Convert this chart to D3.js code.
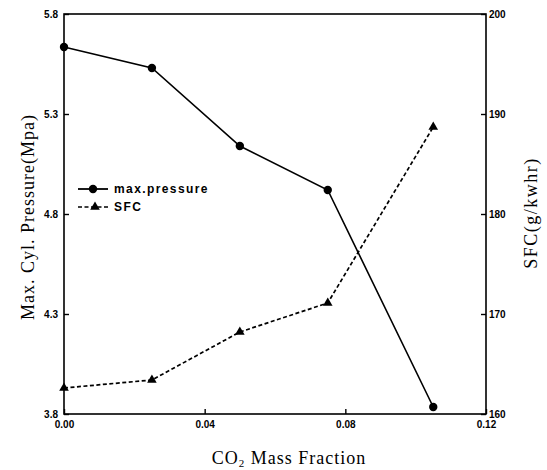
<!DOCTYPE html>
<html>
<head>
<meta charset="utf-8">
<script src="https://cdn.jsdelivr.net/npm/d3@7"></script>
<style>
  html, body { margin: 0; padding: 0; background: #fff; }
  svg { display: block; }
</style>
</head>
<body>
<svg id="chart" width="547" height="470"></svg>
<script>
// CO2 mass fraction (x) and the two measured series
const co2Fraction = [0.0, 0.025, 0.05, 0.075, 0.105];
const maxPressure = [5.635, 5.53, 5.14, 4.92, 3.835];
const sfc = [162.6, 163.4, 168.2, 171.1, 188.7];

const xTicks = [0.00, 0.04, 0.08, 0.12];
const leftTicks = [3.8, 4.3, 4.8, 5.3, 5.8];
const rightTicks = [160, 170, 180, 190, 200];

const svg = d3.select("#chart");
const plotL = 64, plotR = 486, plotT = 14, plotB = 414;

const x = d3.scaleLinear().domain([0, 0.12]).range([plotL, plotR]);
const yL = d3.scaleLinear().domain([3.8, 5.8]).range([plotB, plotT]);
const yR = d3.scaleLinear().domain([160, 200]).range([plotB, plotT]);

const tickFont = "'Liberation Sans', Arial, sans-serif";
const titleFont = "'Liberation Serif', 'Times New Roman', serif";
const dash = "4,2.5";

// frame
svg.append("rect")
  .attr("x", plotL).attr("y", plotT)
  .attr("width", plotR - plotL).attr("height", plotB - plotT)
  .attr("fill", "none").attr("stroke", "#000").attr("stroke-width", 1.6);

// axes with inward ticks
function styleAxis(g) {
  g.select(".domain").remove();
  g.selectAll("line").attr("stroke", "#000").attr("stroke-width", 1.4);
  g.selectAll("text")
    .attr("font-family", tickFont).attr("font-weight", "bold")
    .attr("font-size", 10).attr("fill", "#000");
}

svg.append("g")
  .attr("transform", `translate(0,${plotB})`)
  .call(d3.axisTop(x).tickValues(xTicks).tickSize(5).tickFormat(d3.format(".2f")))
  .call(styleAxis)
  .call(g => g.selectAll("text").attr("y", 10).attr("dy", "0.35em"));

svg.append("g")
  .attr("transform", `translate(${plotL},0)`)
  .call(d3.axisRight(yL).tickValues(leftTicks).tickSize(5).tickFormat(d3.format(".1f")))
  .call(styleAxis)
  .call(g => g.selectAll("text").attr("x", -6).attr("text-anchor", "end"));

svg.append("g")
  .attr("transform", `translate(${plotR},0)`)
  .call(d3.axisLeft(yR).tickValues(rightTicks).tickSize(5).tickFormat(d3.format("d")))
  .call(styleAxis)
  .call(g => g.selectAll("text").attr("x", 3).attr("text-anchor", "start"));

// max pressure series: solid line with filled circles
const pData = co2Fraction.map((c, i) => [c, maxPressure[i]]);
svg.append("path")
  .datum(pData)
  .attr("fill", "none").attr("stroke", "#000").attr("stroke-width", 1.6)
  .attr("d", d3.line().x(d => x(d[0])).y(d => yL(d[1])));
svg.selectAll(".pmark").data(pData).join("circle")
  .attr("class", "pmark")
  .attr("cx", d => x(d[0])).attr("cy", d => yL(d[1])).attr("r", 4.2)
  .attr("fill", "#000");

// SFC series: dotted line with filled triangles
const sData = co2Fraction.map((c, i) => [c, sfc[i]]);
svg.append("path")
  .datum(sData)
  .attr("fill", "none").attr("stroke", "#000").attr("stroke-width", 1.7)
  .attr("stroke-dasharray", dash)
  .attr("d", d3.line().x(d => x(d[0])).y(d => yR(d[1])));
const tri = d3.symbol().type(d3.symbolTriangle).size(40);
svg.selectAll(".smark").data(sData).join("path")
  .attr("class", "smark")
  .attr("transform", d => `translate(${x(d[0])},${yR(d[1])})`)
  .attr("d", tri).attr("fill", "#000");

// legend
const lg = svg.append("g");
lg.append("line").attr("x1", 78).attr("x2", 108).attr("y1", 189).attr("y2", 189)
  .attr("stroke", "#000").attr("stroke-width", 1.8);
lg.append("circle").attr("cx", 93).attr("cy", 189).attr("r", 4.2).attr("fill", "#000");
lg.append("text").attr("x", 114).attr("y", 193)
  .attr("font-family", tickFont).attr("font-weight", "bold").attr("font-size", 12)
  .attr("letter-spacing", 1.4)
  .text("max.pressure");
lg.append("line").attr("x1", 78).attr("x2", 108).attr("y1", 207).attr("y2", 207)
  .attr("stroke", "#000").attr("stroke-width", 1.7).attr("stroke-dasharray", dash);
lg.append("path").attr("transform", "translate(95,207)").attr("d", tri).attr("fill", "#000");
lg.append("text").attr("x", 114).attr("y", 211)
  .attr("font-family", tickFont).attr("font-weight", "bold").attr("font-size", 12)
  .attr("letter-spacing", 1.4)
  .text("SFC");

// axis titles
const xt = svg.append("text")
  .attr("x", 289).attr("y", 464).attr("text-anchor", "middle")
  .attr("font-family", titleFont).attr("font-size", 18).attr("letter-spacing", 1);
xt.append("tspan").text("CO");
xt.append("tspan").attr("font-size", 11).attr("dy", 3).text("2");
xt.append("tspan").attr("dy", -3).text(" Mass Fraction");

svg.append("text")
  .attr("transform", "translate(34,217) rotate(-90)")
  .attr("text-anchor", "middle")
  .attr("font-family", titleFont).attr("font-size", 18).attr("letter-spacing", 1)
  .text("Max. Cyl. Pressure(Mpa)");

svg.append("text")
  .attr("transform", "translate(537,213) rotate(-90)")
  .attr("text-anchor", "middle")
  .attr("font-family", titleFont).attr("font-size", 18).attr("letter-spacing", 1.5)
  .text("SFC(g/kwhr)");
</script>
</body>
</html>
